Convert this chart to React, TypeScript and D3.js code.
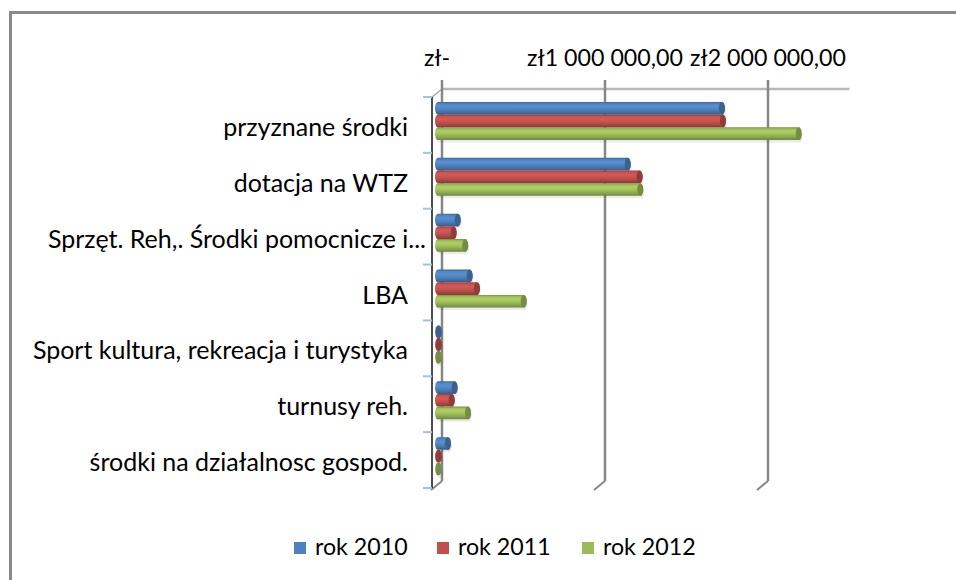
import React from 'react';
import * as d3 from 'd3';

const categories = [
  'przyznane środki',
  'dotacja na WTZ',
  'Sprzęt. Reh,. Środki pomocnicze i...',
  'LBA',
  'Sport kultura, rekreacja i turystyka',
  'turnusy reh.',
  'środki na działalnosc gospod.',
];
const seriesNames = ['rok 2010', 'rok 2011', 'rok 2012'];
const values2010 = [1742000, 1164000, 121000, 194000, 5000, 102000, 61000];
const values2011 = [1748000, 1237000, 96000, 239000, 5000, 84000, 5000];
const values2012 = [2213000, 1241000, 167000, 526000, 4000, 184000, 4000];
const tickValues = [0, 1000000, 2000000];
const tickLabels = ['zł-', 'zł1 000 000,00', 'zł2 000 000,00'];
const colors = ['#4F81BD', '#C0504D', '#9BBB59'];

const W = 956;
const H = 580;
const FONT = 'Lato, "Open Sans", sans-serif';

export default function App() {
  const allSeries = [values2010, values2011, values2012];
  const x = d3.scaleLinear().domain([0, 2500000]).range([0, 407.5]);
  const backX0 = 442;
  const barX0 = 438;
  const top = 89;
  const bottom = 481;
  const depthDx = -10;
  const depthDy = 8;
  const y = d3.scaleBand<string>().domain(categories).range([97, 488]).padding(0);
  const inner = d3.scaleBand<string>().domain(seriesNames).range([5, 43]).padding(0);
  const bh = inner.bandwidth();
  const rx = 3;

  const cyl = (x0: number, x1: number, t: number, h: number) => {
    const b = t + h;
    const ry = h / 2;
    return `M${x0},${t} L${x1},${t} A${rx},${ry} 0 0 1 ${x1},${b} L${x0},${b} A${rx},${ry} 0 0 1 ${x0},${t} Z`;
  };

  return (
    <svg width={W} height={H} style={{ position: 'absolute', left: 0, top: 0, background: '#fff' }}>
      <defs>
        {colors.map((c, i) => {
          const base = d3.color(c)!;
          return (
            <linearGradient key={i} id={`g${i}`} x1="0" y1="0" x2="0" y2="1">
              <stop offset="0" stopColor={base.darker(0.7).formatHex()} />
              <stop offset="0.15" stopColor={base.brighter(0.1).formatHex()} />
              <stop offset="0.35" stopColor={base.brighter(0.3).formatHex()} />
              <stop offset="0.6" stopColor={base.formatHex()} />
              <stop offset="0.85" stopColor={base.darker(0.5).formatHex()} />
              <stop offset="1" stopColor={base.darker(1).formatHex()} />
            </linearGradient>
          );
        })}
      </defs>
      <rect x={0} y={0} width={W} height={H} fill="#fff" />
      {/* chart frame */}
      <rect x={10.5} y={12.5} width={1100} height={800} fill="none" stroke="#8A8A8A" strokeWidth={3} />

      {/* back wall top edge */}
      <line x1={backX0} x2={backX0 + x(2500000)} y1={top} y2={top} stroke="#B8B8B8" strokeWidth={2.5} />
      {/* top-left depth edge */}
      <line x1={backX0} y1={top} x2={backX0 + depthDx} y2={top + depthDy} stroke="#A6A6A6" strokeWidth={1.5} />

      {/* gridlines */}
      {tickValues.map((v, i) => {
        const gx = backX0 + x(v);
        return (
          <g key={i}>
            <line x1={gx} x2={gx} y1={80} y2={bottom} stroke="#878787" strokeWidth={2.5} />
            <line x1={gx} y1={bottom} x2={gx + depthDx - 1} y2={bottom + depthDy + 1} stroke="#878787" strokeWidth={2} />
            <text x={gx - (i === 0 ? 5 : 0)} y={66} textAnchor="middle" fontFamily={FONT} fontSize={23.2} fill="#000">
              {tickLabels[i]}
            </text>
          </g>
        );
      })}

      {/* category axis */}
      <line x1={432} x2={432} y1={97} y2={488} stroke="#111" strokeWidth={1.5} />
      {[...categories.map((c) => y(c)!), 488].map((ty, i) => (
        <line key={i} x1={423} x2={432} y1={ty} y2={ty} stroke="#A7BFE3" strokeWidth={2} />
      ))}

      {/* category labels */}
      {categories.map((c, i) => (
        <text
          key={c}
          x={i === 2 ? 426 : 408}
          y={y(c)! + y.bandwidth() / 2 + 1}
          textAnchor="end"
          dominantBaseline="central"
          fontFamily={FONT}
          fontSize={25}
          fill="#000"
        >
          {c}
        </text>
      ))}

      {/* bars */}
      {categories.map((c, ci) => (
        <g key={c}>
          {allSeries.map((vals, si) => {
            const t = y(c)! + inner(seriesNames[si])!;
            const x1 = barX0 + x(vals[ci]);
            const base = d3.color(colors[si])!;
            return (
              <g key={si}>
                <path d={cyl(barX0 + 1, x1 + 1, t + 2.5, bh)} fill="#000" opacity={0.08} />
                <path d={cyl(barX0, x1, t, bh)} fill={`url(#g${si})`} />
                <ellipse cx={x1} cy={t + bh / 2} rx={rx} ry={bh / 2} fill={base.darker(0.8).formatHex()} />
              </g>
            );
          })}
        </g>
      ))}

      {/* legend */}
      {seriesNames.map((s, i) => {
        const lx = [294, 437, 582][i];
        return (
          <g key={s}>
            <rect x={lx} y={542} width={12} height={12} fill={colors[i]} />
            <text x={lx + 21} y={555} fontFamily={FONT} fontSize={23.2} fill="#000">
              {s}
            </text>
          </g>
        );
      })}
    </svg>
  );
}
